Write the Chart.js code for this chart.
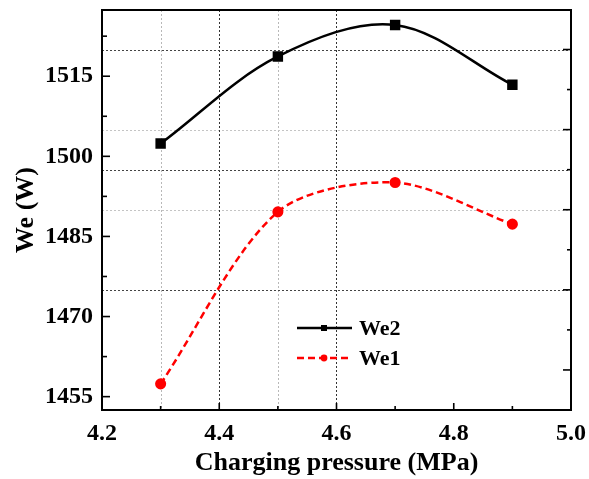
<!DOCTYPE html>
<html>
<head>
<meta charset="utf-8">
<script src="https://cdn.jsdelivr.net/npm/chart.js@4.4.1/dist/chart.umd.min.js"></script>
<style>
  html, body { margin: 0; padding: 0; background: #fff; }
  #wrap { width: 589px; height: 479px; }
</style>
</head>
<body>
<div id="wrap"><canvas id="chartWe"></canvas></div>
<script>
// datos
const pressure = [4.3, 4.5, 4.7, 4.9];
const we2 = [1502.4, 1518.7, 1524.6, 1513.4];
const we1 = [1457.4, 1489.6, 1495.1, 1487.3];
const xTicks = [4.2, 4.4, 4.6, 4.8, 5.0];
const yTicks = [1455, 1470, 1485, 1500, 1515];
const xMinor = [4.3, 4.5, 4.7, 4.9];
const yMinor = [1462.5, 1477.5, 1492.5, 1507.5, 1522.5];
const rightMajor = [1460, 1475, 1490, 1505, 1520];
const rightMinor = [1467.5, 1482.5, 1497.5, 1512.5];
const gridDarkX = [4.4, 4.6];
const gridLightX = [4.3, 4.5];
const gridDarkY = [1475, 1497.5, 1520];
const gridLightY = [1490, 1505];

const FONT = "'Liberation Serif', 'Times New Roman', serif";

// rejilla punteada + marcas hacia dentro + leyenda interior
const frameDeco = {
    id: 'frameDeco',
    beforeDatasetsDraw(chart) {
        const { ctx, chartArea: a, scales: { x, y } } = chart;
        ctx.save();
        ctx.lineWidth = 1;
        ctx.setLineDash([2, 2]);
        const vline = (v, c) => {
            const px = Math.round(x.getPixelForValue(v)) + 0.5;
            ctx.strokeStyle = c;
            ctx.beginPath(); ctx.moveTo(px, a.top); ctx.lineTo(px, a.bottom); ctx.stroke();
        };
        const hline = (v, c) => {
            const py = Math.round(y.getPixelForValue(v)) + 0.5;
            ctx.strokeStyle = c;
            ctx.beginPath(); ctx.moveTo(a.left, py); ctx.lineTo(a.right, py); ctx.stroke();
        };
        gridLightX.forEach(v => vline(v, '#b8b8b8'));
        gridLightY.forEach(v => hline(v, '#c4c4c4'));
        gridDarkX.forEach(v => vline(v, '#333'));
        gridDarkY.forEach(v => hline(v, '#444'));
        ctx.restore();
    },
    afterDraw(chart) {
        const { ctx, chartArea: a, scales: { x, y } } = chart;
        ctx.save();
        ctx.strokeStyle = '#000';
        ctx.setLineDash([]);
        ctx.lineWidth = 2;
        ctx.strokeRect(a.left, a.top, a.right - a.left, a.bottom - a.top);

        ctx.lineWidth = 1.6;
        const tickX = (v, len) => {
            const px = x.getPixelForValue(v);
            ctx.beginPath(); ctx.moveTo(px, a.bottom); ctx.lineTo(px, a.bottom - len); ctx.stroke();
        };
        const tickL = (v, len) => {
            const py = y.getPixelForValue(v);
            ctx.beginPath(); ctx.moveTo(a.left, py); ctx.lineTo(a.left + len, py); ctx.stroke();
        };
        const tickR = (v, len) => {
            const py = y.getPixelForValue(v);
            ctx.beginPath(); ctx.moveTo(a.right, py); ctx.lineTo(a.right - len, py); ctx.stroke();
        };
        xTicks.forEach(v => tickX(v, 7));
        xMinor.forEach(v => tickX(v, 4));
        yTicks.forEach(v => tickL(v, 8));
        yMinor.forEach(v => tickL(v, 5));
        rightMajor.forEach(v => tickR(v, 8));
        rightMinor.forEach(v => tickR(v, 4));

        // leyenda
        const lx = 297, lw = 55;
        const rows = [
            { ds: chart.data.datasets[0], yy: 328 },
            { ds: chart.data.datasets[1], yy: 358 }
        ];
        rows.forEach(r => {
            ctx.strokeStyle = r.ds.borderColor;
            ctx.fillStyle = r.ds.backgroundColor;
            ctx.lineWidth = 2.5;
            ctx.setLineDash(r.ds.borderDash || []);
            ctx.beginPath(); ctx.moveTo(lx, r.yy); ctx.lineTo(lx + lw, r.yy); ctx.stroke();
            ctx.setLineDash([]);
            const cx = lx + 27;
            if (r.ds.pointStyle === 'rect') {
                ctx.fillRect(cx - 3, r.yy - 3, 6, 6);
            } else {
                ctx.beginPath(); ctx.arc(cx, r.yy, 3.4, 0, Math.PI * 2); ctx.fill();
            }
            ctx.fillStyle = '#000';
            ctx.font = 'bold 22px ' + FONT;
            ctx.textBaseline = 'middle';
            ctx.fillText(r.ds.label, lx + lw + 7, r.yy + 1);
        });
        ctx.restore();
    }
};

new Chart(document.getElementById('chartWe'), {
    type: 'line',
    data: {
        datasets: [{
            label: 'We2',
            data: pressure.map((p, i) => ({ x: p, y: we2[i] })),
            borderColor: '#000',
            backgroundColor: '#000',
            borderWidth: 2.5,
            pointStyle: 'rect',
            pointRadius: 5.6,
            tension: 0.34
        }, {
            label: 'We1',
            data: pressure.map((p, i) => ({ x: p, y: we1[i] })),
            borderColor: '#ff0000',
            backgroundColor: '#ff0000',
            borderWidth: 2.5,
            borderDash: [7, 4],
            pointStyle: 'circle',
            pointRadius: 4.3,
            tension: 0.3
        }]
    },
    options: {
        responsive: true,
        maintainAspectRatio: false,
        animation: false,
        layout: { padding: { left: 0, right: 18, top: 10, bottom: 0 } },
        plugins: { legend: { display: false }, tooltip: { enabled: false } },
        scales: {
            x: {
                type: 'linear',
                min: 4.2,
                max: 5.0,
                afterBuildTicks: s => { s.ticks = xTicks.map(v => ({ value: v })); },
                afterFit: s => { s.height = 69; s.paddingLeft = 0; s.paddingRight = 0; },
                grid: { display: false, drawTicks: false },
                border: { display: false },
                ticks: {
                    color: '#000',
                    padding: 9,
                    maxRotation: 0,
                    font: { family: FONT, size: 24, weight: 'bold' },
                    callback: v => v.toFixed(1)
                },
                title: {
                    display: true,
                    text: 'Charging pressure (MPa)',
                    color: '#000',
                    padding: { top: 0, bottom: 0 },
                    font: { family: FONT, size: 26, weight: 'bold' }
                }
            },
            y: {
                min: 1452.5,
                max: 1527.4,
                afterBuildTicks: s => { s.ticks = yTicks.map(v => ({ value: v })); },
                afterFit: s => { s.width = 102; s.paddingTop = 0; s.paddingBottom = 0; },
                grid: { display: false, drawTicks: false },
                border: { display: false },
                ticks: {
                    color: '#000',
                    padding: 9,
                    font: { family: FONT, size: 24, weight: 'bold' },
                    callback: v => String(v)
                },
                title: {
                    display: true,
                    text: 'We (W)',
                    color: '#000',
                    padding: { top: 11, bottom: 0 },
                    font: { family: FONT, size: 26, weight: 'bold' }
                }
            }
        }
    },
    plugins: [frameDeco]
});
</script>
</body>
</html>
